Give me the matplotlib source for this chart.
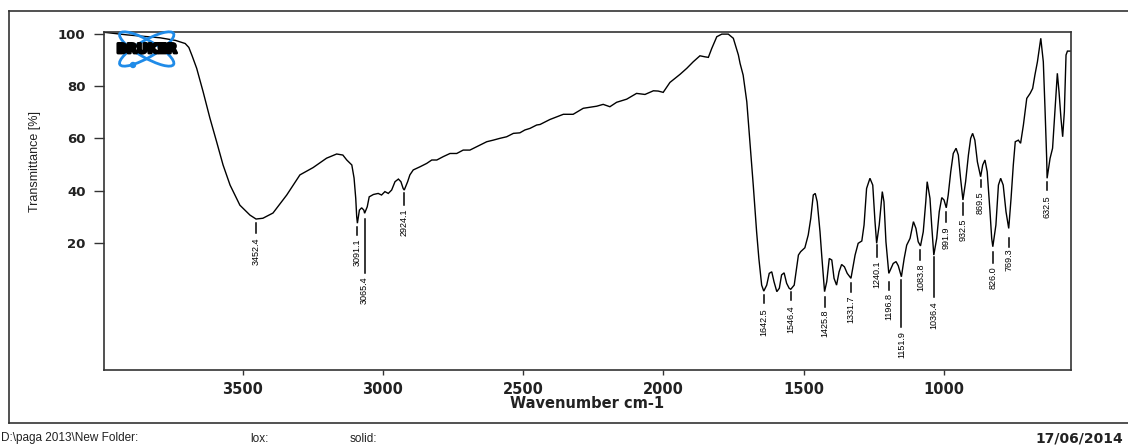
import numpy as np
import matplotlib
matplotlib.use("Agg")
import matplotlib.pyplot as plt
from matplotlib import font_manager
from matplotlib.patches import Ellipse, Circle
from matplotlib.lines import Line2D
import matplotlib.patheffects as pe

# ---------------- data ----------------
wavenumber = [3994, 3960, 3912, 3850, 3795, 3740, 3705, 3692, 3680, 3664, 3641, 3617, 3593, 3570,
              3545, 3510, 3474, 3452.4, 3428, 3392, 3343, 3296, 3249, 3201, 3165, 3143, 3129,
              3111, 3103, 3097, 3093.6, 3091.1, 3084, 3076, 3068, 3065.4, 3056, 3049, 3034,
              3017, 3005, 2993, 2981, 2969, 2957, 2945, 2936, 2928, 2924.1, 2912, 2904, 2892,
              2868, 2844, 2826, 2808, 2785, 2761, 2737, 2714, 2690, 2654, 2630, 2607, 2583,
              2559, 2535, 2512, 2494, 2476, 2452, 2440, 2405, 2357, 2322, 2286, 2238, 2215,
              2191, 2167, 2131, 2096, 2066, 2036, 2019, 2001, 1977, 1941, 1917, 1894, 1870,
              1852, 1840, 1828, 1810, 1792, 1769, 1751, 1733, 1727, 1716, 1703, 1692, 1680,
              1668, 1660, 1650, 1642.5, 1632, 1623, 1614, 1606, 1596, 1587, 1579, 1570, 1561,
              1552, 1546.4, 1534, 1519, 1511, 1496, 1484, 1475, 1466, 1459, 1452, 1442, 1436,
              1425.8, 1418, 1409, 1400, 1392, 1383, 1374, 1365, 1355, 1345, 1331.7, 1317, 1306,
              1293, 1285, 1276, 1264, 1254, 1246, 1240.1, 1231, 1220, 1214, 1207, 1196.8, 1181,
              1171, 1163, 1151.9, 1142, 1133, 1121, 1109, 1100, 1092, 1083.8, 1074, 1065, 1060,
              1050, 1044, 1036.4, 1026, 1017, 1008, 1000, 991.9, 985, 976, 967, 957, 949, 941,
              932.5, 923, 913, 905, 898, 890, 881, 869.5, 862, 854, 846, 836, 830, 826.0, 815,
              806, 798, 789, 779, 769.3, 761, 753, 746, 735, 727, 717, 705, 693, 684, 676, 667,
              655, 646, 640, 634, 632.5, 622, 613, 604, 596, 590, 583, 577, 571, 565, 560, 551,
              547]
transmittance = [100.6, 100.2, 99.6, 99.0, 98.5, 97.5, 96.3, 94.8, 91.5, 86.8, 77.8, 67.8, 58.7, 49.8,
                 42.1, 34.4, 30.6, 29.1, 29.4, 31.4, 38.3, 46.0, 48.8, 52.4, 54.0, 53.6, 51.7,
                 49.8, 44.8, 37.0, 30.0, 27.5, 32.5, 33.4, 32.5, 31.3, 33.8, 37.6, 38.5,
                 38.9, 38.3, 39.6, 38.9, 40.2, 43.4, 44.4, 43.4, 40.8, 40.2, 43.4, 46.0, 47.9,
                 49.1, 50.4, 51.7, 51.7, 53.0, 54.2, 54.2, 55.5, 55.5, 57.4, 58.7, 59.3, 60.0,
                 60.6, 61.9, 62.1, 63.2, 63.8, 65.1, 65.3, 67.2, 69.2, 69.2, 71.5, 72.3, 73.0,
                 72.1, 73.8, 75.0, 77.2, 76.8, 78.2, 78.1, 77.6, 81.4, 84.5, 86.8, 89.3, 91.6,
                 91.2, 91.0, 94.4, 98.9, 99.9, 99.9, 98.3, 91.9, 88.7, 84.2, 74.0, 58.7, 42.1,
                 24.2, 14.0, 3.8, 1.5, 3.8, 8.3, 8.9, 5.1, 1.3, 2.6, 7.7, 8.5, 4.5,
                 2.6, 2.2, 3.8, 15.3, 16.6, 18.1, 23.0, 29.3, 38.3, 38.9, 35.7, 24.2, 15.3,
                 1.3, 5.1, 14.0, 13.4, 6.4, 3.8, 8.9, 11.7, 10.8, 8.3, 6.4, 15.3, 19.8,
                 20.7, 26.8, 40.8, 44.7, 42.1, 28.1, 19.8, 26.8, 39.6, 35.7, 20.4, 8.3, 12.1,
                 12.8, 11.2, 7.0, 14.0, 19.1, 21.7, 28.1, 25.5, 20.4, 18.8, 24.2, 35.7, 43.4,
                 37.0, 26.8, 15.3, 21.7, 31.9, 37.3, 36.4, 33.4, 38.3, 47.2, 54.2, 56.2, 53.6, 44.7,
                 36.4, 43.4, 53.6, 60.0, 61.9, 59.3, 51.0, 45.3, 49.8, 51.7, 47.2, 31.9, 21.7, 18.5, 26.8,
                 42.1, 44.7, 42.1, 31.9, 25.5, 37.0, 49.8, 58.7, 59.3, 58.1, 65.1, 75.3, 77.2, 79.1, 84.2, 89.3,
                 98.3, 89.3, 71.5, 52.3, 44.7, 52.3, 56.2, 71.5, 84.9, 77.8, 67.6, 60.6, 70.2, 91.9, 93.4, 93.4,
                 93.4]

peak_labels = ["3452.4", "3091.1", "3065.4", "2924.1", "1642.5", "1546.4", "1425.8", "1331.7",
               "1240.1", "1196.8", "1151.9", "1083.8", "1036.4", "991.9", "932.5", "869.5",
               "826.0", "769.3", "632.5"]

x_ticks = [3500, 3000, 2500, 2000, 1500, 1000]
y_ticks = [20, 40, 60, 80, 100]

# ---------------- layout (label tick extents, in % units) ----------------
label_tick_top = [27.6, 26.1, 29.1, 38.9, 0.0, 1.3, -0.7, 4.5, 19.1, 5.1, 5.7, 17.2, 14.7,
                  31.9, 35.1, 44.0, 16.6, 21.7, 43.4]
label_tick_bot = [23.7, 23.0, 8.3, 34.4, -3.1, -1.9, -4.5, 1.3, 14.7, 1.9, -12.1, 13.4, -0.7,
                  28.0, 30.6, 41.5, 12.1, 18.5, 40.2]
label_text_top = [22.2, 21.8, 7.0, 33.3, -5.0, -3.8, -5.7, 0.0, 13.4, 0.7, -14.0, 12.1, -2.6,
                  26.4, 29.4, 39.5, 10.8, 17.9, 38.3]

W, H, DPI = 1128, 445, 100
fig = plt.figure(figsize=(W / DPI, H / DPI), dpi=DPI)
fig.patch.set_facecolor("white")

names = {f.name for f in font_manager.fontManager.ttflist}
if "Liberation Sans Narrow" in names:
    narrow, nsize, ysize = "Liberation Sans Narrow", 7.4, 10
else:
    narrow, nsize, ysize = "Liberation Sans", 6.5, 9
bold_font = ["DejaVu Sans"]

def fx(px):
    return px / W

def fy(py):
    return 1 - py / H

ax = fig.add_axes([fx(104), fy(370), fx(1071) - fx(104), fy(31.5) - fy(370)])
ax.plot(wavenumber, transmittance, color="black", lw=1.0, solid_joinstyle="miter")
ax.set_xlim(3994.4, 547.3)
ax.set_ylim(-28.7, 100.9)

ax.set_xticks(x_ticks)
ax.set_xticklabels([str(v) for v in x_ticks], fontfamily=bold_font, fontweight="bold",
                   fontsize=10.5, color="#222222")
ax.set_yticks(y_ticks)
ax.set_yticklabels([str(v) for v in y_ticks], fontfamily=bold_font, fontweight="bold",
                   fontsize=9.5, color="#222222")
ax.tick_params(axis="x", length=3.6, width=1.0, pad=5.0, color="#333333")
ax.tick_params(axis="y", length=7.2, width=1.0, pad=6.0, color="#333333")
for s in ax.spines.values():
    s.set_color("#333333")
    s.set_linewidth(1.2)

# peak labels
for lab, t0, t1, tt in zip(peak_labels, label_tick_top, label_tick_bot, label_text_top):
    w = float(lab)
    ax.plot([w, w], [t0, t1], color="black", lw=1.1)
    ax.text(w, tt, lab, rotation=90, ha="center", va="top", fontsize=nsize,
            fontfamily=[narrow, "DejaVu Sans"], color="black")

# axis titles
fig.text(fx(35), fy(161), "Transmittance [%]", rotation=90, ha="center", va="center",
         fontsize=ysize, fontfamily=[narrow, "DejaVu Sans"], color="#222222")
fig.text(fx(586.7), fy(404), "Wavenumber cm-1", ha="center", va="center",
         fontsize=10.5, fontweight="bold", fontfamily=bold_font, color="#222222")

# outer frame
frame_kw = dict(color="#333333", lw=1.2, transform=fig.transFigure)
fig.add_artist(Line2D([fx(9), 1.0], [fy(11), fy(11)], **frame_kw))
fig.add_artist(Line2D([fx(9), fx(9)], [fy(11), fy(423)], **frame_kw))
fig.add_artist(Line2D([fx(9), 1.0], [fy(423), fy(423)], **frame_kw))

# footer
foot_kw = dict(ha="left", va="center", fontsize=8.5, fontfamily=["Liberation Sans"],
               color="#222222")
fig.text(fx(1), fy(438.5), "D:\\paga 2013\\New Folder:", **foot_kw)
fig.text(fx(250), fy(438.5), "lox:", **foot_kw)
fig.text(fx(350), fy(438.5), "solid:", **foot_kw)
fig.text(fx(1123), fy(438.5), "17/06/2014", ha="right", va="center",
         fontsize=10, fontweight="bold", fontfamily=bold_font, color="#222222")

# logo (display-pixel coordinates, origin bottom-left)
cx, cy = 146.7, H - 49
blue = "#1f8be8"
for ang in (30, -30):
    fig.add_artist(Ellipse((cx, cy), 62, 17, angle=ang, fill=False, edgecolor=blue,
                           lw=2.0, transform=None))
fig.add_artist(Circle((133, H - 65), 2.5, color=blue, transform=None))
fig.text(fx(147), fy(49.5), "BRUKER", ha="center", va="center", fontsize=9.5,
         fontweight="heavy", fontfamily=bold_font, color="black",
         path_effects=[pe.withStroke(linewidth=2.0, foreground="black")])

fig.savefig("out.png", dpi=DPI, facecolor="white")
